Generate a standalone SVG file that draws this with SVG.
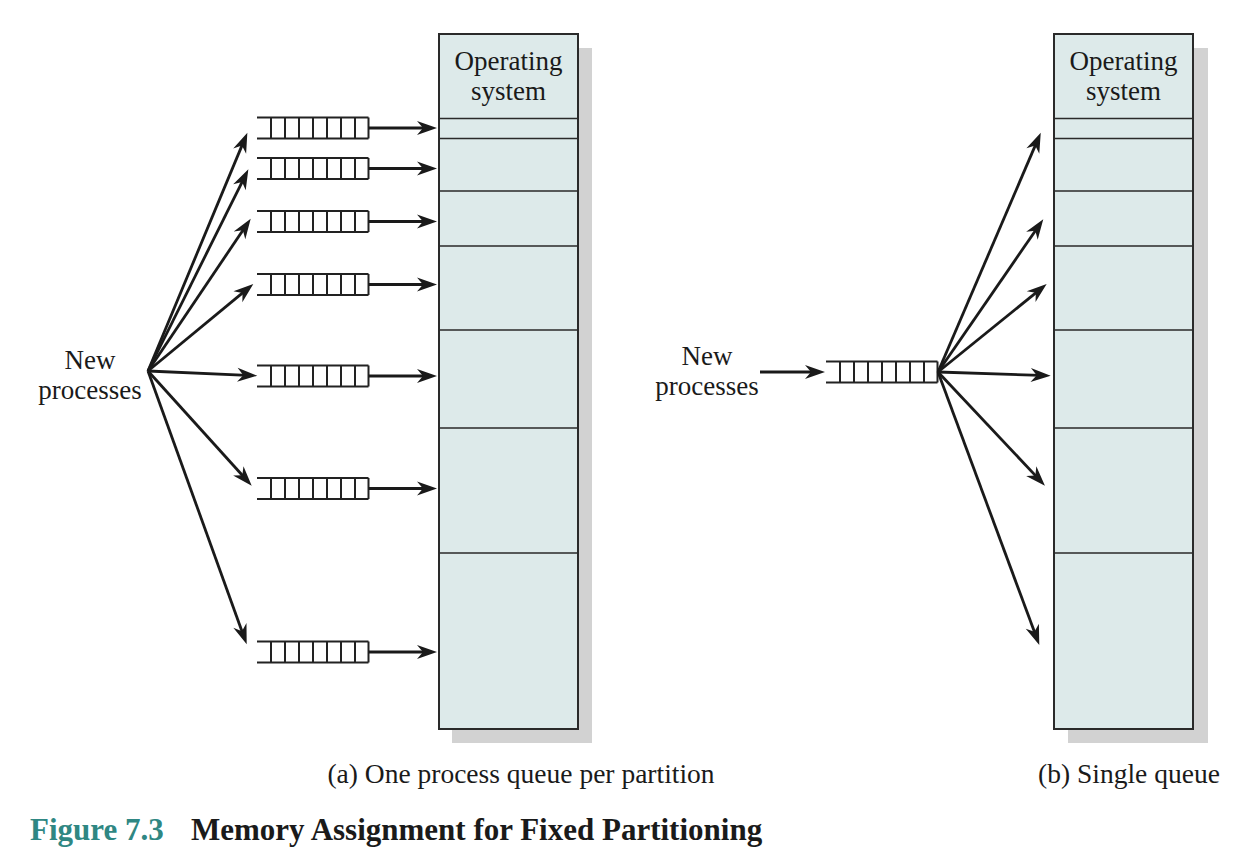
<svg xmlns="http://www.w3.org/2000/svg" xmlns:xlink="http://www.w3.org/1999/xlink" width="1246" height="868" viewBox="0 0 1246 868">
<style>
  .mem { fill: #ddeaea; stroke: #2a2a2a; stroke-width: 2; }
  .shadow { fill: #d2d2d2; }
  .part { stroke: #2a2a2a; stroke-width: 1.6; fill: none; }
  .q { stroke: #222; stroke-width: 2; fill: none; }
  .fan { stroke: #1a1a1a; stroke-width: 2.8; fill: none; marker-end: url(#ah); }
  .hor { stroke: #1a1a1a; stroke-width: 3.2; fill: none; marker-end: url(#ah); }
  .lbl { font-family: "Liberation Serif", "Times New Roman", serif; font-size: 27px; fill: #1a1a1a; text-anchor: middle; }
  .cap { font-family: "Liberation Serif", "Times New Roman", serif; font-size: 27.5px; fill: #1a1a1a; text-anchor: middle; }
  .title { font-family: "Liberation Serif", "Times New Roman", serif; font-size: 31px; font-weight: bold; }
</style>
<defs>
  <marker id="ah" markerUnits="userSpaceOnUse" viewBox="-11 -8 22 16" refX="0" refY="0" markerWidth="22" markerHeight="16" orient="auto" overflow="visible">
    <path d="M10,0 L-10,-7 L-4,0 L-10,7 Z" fill="#1a1a1a"/>
  </marker>
  <g id="queue">
    <path class="q" d="M0,-10.5 H111.5 M0,10.5 H111.5 M14,-10.5 V10.5 M28,-10.5 V10.5 M42,-10.5 V10.5 M56,-10.5 V10.5 M70,-10.5 V10.5 M84,-10.5 V10.5 M98,-10.5 V10.5 M111.5,-10.5 V10.5"/>
  </g>
</defs>
<rect width="1246" height="868" fill="#ffffff"/>

<g id="memory-a">
  <rect class="shadow" x="452" y="48" width="140" height="695"/>
  <rect class="mem" x="439" y="34" width="139" height="695"/>
  <path class="part" d="M439,118.5 H578 M439,138.5 H578 M439,191 H578 M439,246 H578 M439,330 H578 M439,428 H578 M439,553 H578"/>
  <text class="lbl" x="508.5" y="69.5">Operating</text>
  <text class="lbl" x="508.5" y="100">system</text>
</g>

<g id="memory-b">
  <rect class="shadow" x="1068" y="48" width="140" height="695"/>
  <rect class="mem" x="1054" y="34" width="139" height="695"/>
  <path class="part" d="M1054,118.5 H1193 M1054,138.5 H1193 M1054,191 H1193 M1054,246 H1193 M1054,330 H1193 M1054,428 H1193 M1054,553 H1193"/>
  <text class="lbl" x="1123.5" y="69.5">Operating</text>
  <text class="lbl" x="1123.5" y="100">system</text>
</g>

<g id="new-processes-a">
  <text class="lbl" x="90" y="369">New</text>
  <text class="lbl" x="90" y="399">processes</text>
</g>

<g id="new-processes-b">
  <text class="lbl" x="707" y="365">New</text>
  <text class="lbl" x="707" y="395">processes</text>
</g>

<g id="queues-a">
  <use xlink:href="#queue" x="257" y="128"/>
  <use xlink:href="#queue" x="257" y="168.5"/>
  <use xlink:href="#queue" x="257" y="221.5"/>
  <use xlink:href="#queue" x="257" y="284.5"/>
  <use xlink:href="#queue" x="257" y="376"/>
  <use xlink:href="#queue" x="257" y="488.5"/>
  <use xlink:href="#queue" x="257" y="652"/>
</g>

<g id="queue-b">
  <use xlink:href="#queue" x="826" y="372"/>
</g>

<g id="connectors">
  <line class="fan" x1="148" y1="371" x2="243.5" y2="141.9"/>
  <line class="fan" x1="148" y1="371" x2="243.9" y2="178.3"/>
  <line class="fan" x1="148" y1="371" x2="245.1" y2="227.0"/>
  <line class="fan" x1="148" y1="371" x2="245.6" y2="290.4"/>
  <line class="fan" x1="148" y1="371" x2="247.3" y2="375.3"/>
  <line class="fan" x1="148" y1="371" x2="245.0" y2="478.3"/>
  <line class="fan" x1="148" y1="371" x2="243.3" y2="634.9"/>

  <line class="hor" x1="368.5" y1="128" x2="427" y2="128"/>
  <line class="hor" x1="368.5" y1="168.5" x2="427" y2="168.5"/>
  <line class="hor" x1="368.5" y1="221.5" x2="427" y2="221.5"/>
  <line class="hor" x1="368.5" y1="284.5" x2="427" y2="284.5"/>
  <line class="hor" x1="368.5" y1="376" x2="427" y2="376"/>
  <line class="hor" x1="368.5" y1="488.5" x2="427" y2="488.5"/>
  <line class="hor" x1="368.5" y1="652" x2="427" y2="652"/>

  <line class="hor" x1="760" y1="372" x2="815" y2="372"/>

  <line class="fan" x1="938" y1="372" x2="1036.8" y2="141.9"/>
  <line class="fan" x1="938" y1="372" x2="1037.6" y2="227.5"/>
  <line class="fan" x1="938" y1="372" x2="1038.9" y2="290.3"/>
  <line class="fan" x1="938" y1="372" x2="1040.7" y2="375.4"/>
  <line class="fan" x1="938" y1="372" x2="1038.1" y2="478.4"/>
  <line class="fan" x1="938" y1="372" x2="1035.8" y2="635.6"/>
</g>

<g id="captions">
  <text class="cap" x="521" y="783">(a) One process queue per partition</text>
  <text class="cap" x="1129" y="783">(b) Single queue</text>
</g>

<g id="title">
  <text class="title" x="30" y="840" fill="#2f8783">Figure 7.3</text>
  <text class="title" x="191" y="840" fill="#1a1a1a">Memory Assignment for Fixed Partitioning</text>
</g>
</svg>
